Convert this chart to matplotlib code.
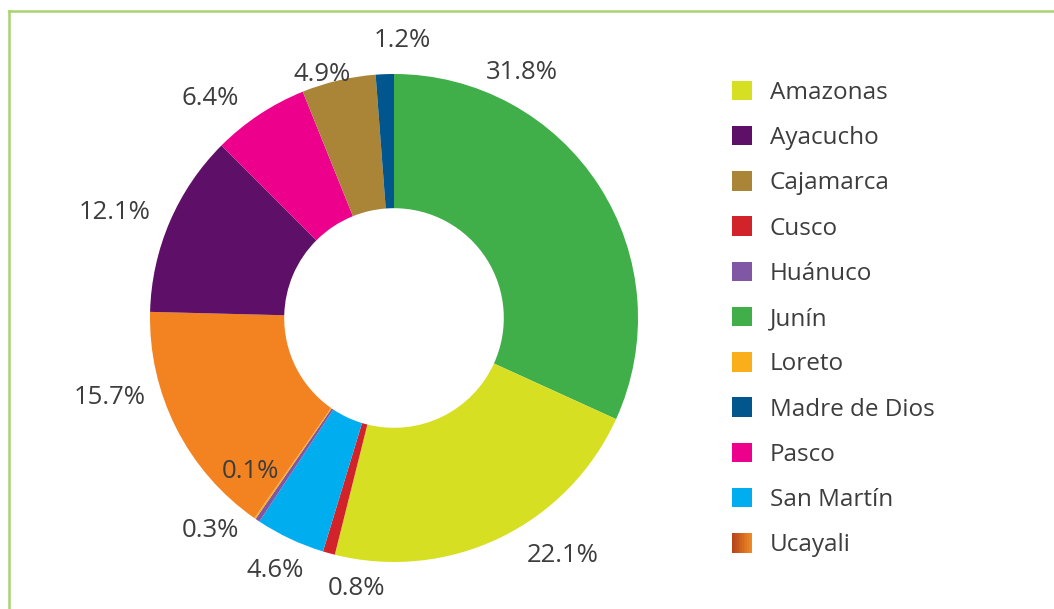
import matplotlib.pyplot as plt
import matplotlib.colors as mcolors
from matplotlib.patches import Patch, Rectangle
from matplotlib.legend_handler import HandlerBase

plt.rcParams['font.family'] = ['Open Sans', 'DejaVu Sans']

# legend (alphabetical) order
regions = ['Amazonas', 'Ayacucho', 'Cajamarca', 'Cusco', 'Huánuco', 'Junín',
           'Loreto', 'Madre de Dios', 'Pasco', 'San Martín', 'Ucayali']
colors = ['#D7DF23', '#5E1068', '#AA8538', '#D2232A', '#7F57A4', '#40AE49',
          '#FAAE1A', '#00568D', '#EC008C', '#00AEEF', '#F38321']

# slices, clockwise from the top
pie_regions = ['Junín', 'Amazonas', 'Cusco', 'San Martín', 'Huánuco', 'Loreto',
               'Ucayali', 'Ayacucho', 'Pasco', 'Cajamarca', 'Madre de Dios']
pie_values = [31.8, 22.1, 0.8, 4.6, 0.3, 0.1, 15.7, 12.1, 6.4, 4.9, 1.2]
# where each percentage label sits (pie radius = 1)
label_pos = [(0.525, 1.008), (0.693, -0.975), (-0.152, -1.107), (-0.488, -1.033),
             (-0.754, -0.869), (-0.590, -0.631), (-1.164, -0.324), (-1.143, 0.434),
             (-0.754, 0.898), (-0.295, 0.996), (0.033, 1.139)]

text_color = '#3d3d3d'
border_color = '#A6D46E'


class GradientHandler(HandlerBase):
    """Legend key drawn as a left-to-right colour gradient."""
    def __init__(self, c0, c1, steps=12):
        super().__init__()
        self.c0 = mcolors.to_rgb(c0)
        self.c1 = mcolors.to_rgb(c1)
        self.steps = steps

    def create_artists(self, legend, orig_handle, xdescent, ydescent,
                       width, height, fontsize, trans):
        arts = []
        w = width / self.steps
        for i in range(self.steps):
            f = i / (self.steps - 1)
            c = [a + (b - a) * f for a, b in zip(self.c0, self.c1)]
            arts.append(Rectangle((-xdescent + i * w, -ydescent), w * 1.05, height,
                                  facecolor=c, edgecolor='none', transform=trans))
        return arts


fig = plt.figure(figsize=(10.54, 6.09), dpi=100)

# frame lines on the left and top
fig.add_artist(plt.Line2D([9 / 1054, 9 / 1054], [0, 1 - 10.5 / 609],
                          color=border_color, lw=1.8))
fig.add_artist(plt.Line2D([9 / 1054, 1], [1 - 10.5 / 609, 1 - 10.5 / 609],
                          color=border_color, lw=1.8))

ax = fig.add_axes([0, 0, 700 / 1054, 1])
cmap = dict(zip(regions, colors))
ax.pie(pie_values, colors=[cmap[r] for r in pie_regions], startangle=90,
       counterclock=False, radius=1,
       wedgeprops=dict(width=0.55, linewidth=0))
for v, (x, y) in zip(pie_values, label_pos):
    ax.text(x, y, f'{v:.1f}%', ha='center', va='center', fontsize=18.5,
            color=text_color)
ax.set_xlim(-394 / 244, (700 - 394) / 244)
ax.set_ylim((318 - 609) / 244, 318 / 244)
ax.set_aspect('auto')
ax.axis('off')

handles = [Patch(facecolor=c, edgecolor='none') for c in colors]
leg = fig.legend(handles, regions, loc='upper left',
                 bbox_to_anchor=(722 / 1054, 1 - 71 / 609), frameon=False,
                 fontsize=17.5, handlelength=0.85, handleheight=0.85,
                 handletextpad=0.72, labelspacing=0.87, borderaxespad=0,
                 handler_map={handles[-1]: GradientHandler('#B5441B', '#F08A24')})
for t in leg.get_texts():
    t.set_color(text_color)

fig.savefig('out.png', dpi=100)
